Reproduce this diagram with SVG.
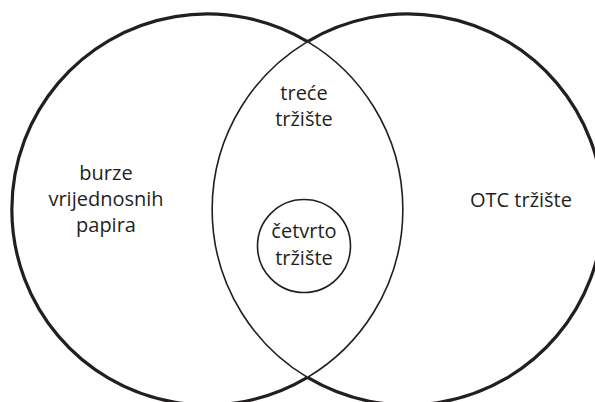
<svg xmlns="http://www.w3.org/2000/svg" width="595" height="402" viewBox="0 0 595 402">
<style>
.outer{fill:none;stroke:#231f20;stroke-width:3.2}
.inner{fill:none;stroke:#231f20;stroke-width:1.6}
.lbl{font-family:"Open Sans","Noto Sans","Liberation Sans",sans-serif;font-size:20px;fill:#231f20;text-anchor:middle}
</style>
<rect width="595" height="402" fill="#ffffff"/>
<g id="burze">
<path class="outer" d="M307.5 41.6 A195.5 195.5 0 1 0 307.5 377.4"/>
<path class="inner" d="M307.5 41.6 A195.5 195.5 0 0 1 307.5 377.4"/>
<text class="lbl" x="106" y="180">burze</text>
<text class="lbl" x="106" y="206">vrijednosnih</text>
<text class="lbl" x="106" y="232">papira</text>
</g>
<g id="otc">
<path class="outer" d="M307.5 41.6 A195.5 195.5 0 1 1 307.5 377.4"/>
<path class="inner" d="M307.5 41.6 A195.5 195.5 0 0 0 307.5 377.4"/>
<text class="lbl" x="521" y="207">OTC tržište</text>
</g>
<g id="trece">
<text class="lbl" x="304" y="100">treće</text>
<text class="lbl" x="304" y="126">tržište</text>
</g>
<g id="cetvrto">
<circle class="inner" cx="304" cy="246" r="46.5"/>
<text class="lbl" x="304" y="238">četvrto</text>
<text class="lbl" x="304" y="265">tržište</text>
</g>
</svg>
